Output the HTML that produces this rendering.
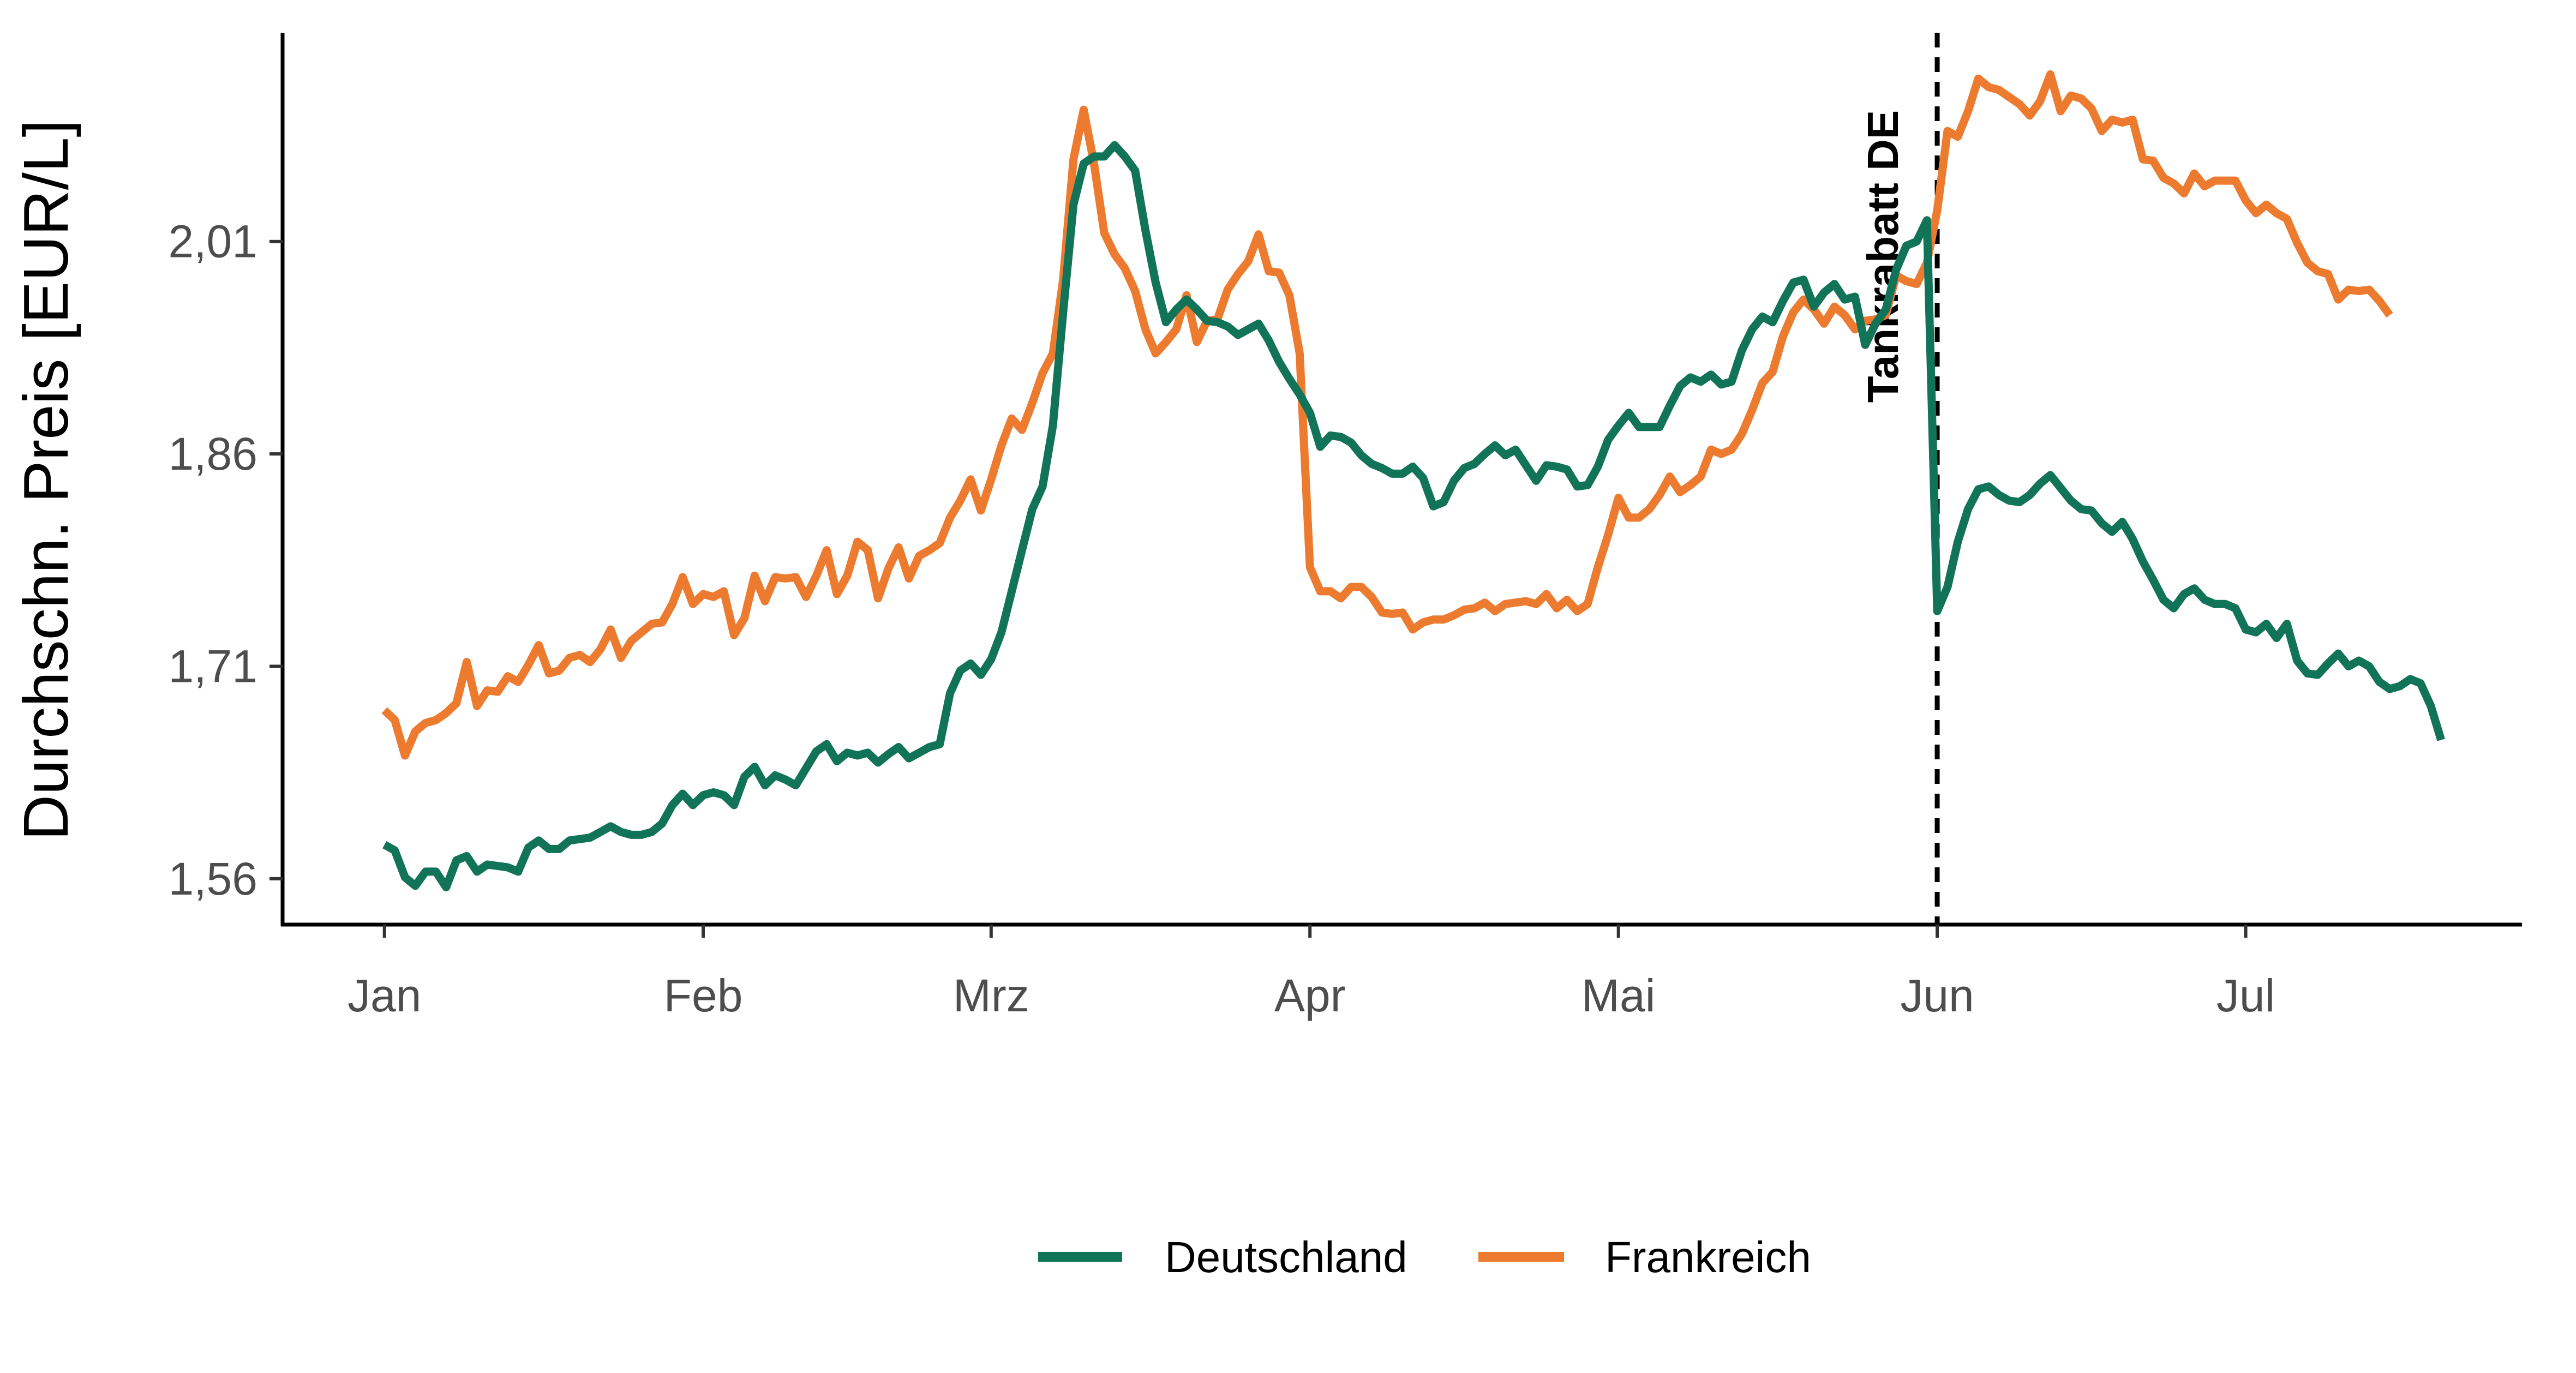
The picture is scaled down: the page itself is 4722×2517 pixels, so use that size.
<!DOCTYPE html>
<html><head><meta charset="utf-8"><style>
html,body{margin:0;padding:0;background:#fff}
svg{display:block}
text{font-family:"Liberation Sans",Arial,sans-serif}
</style></head><body>
<svg id="chart" width="4722" height="2517" viewBox="0 0 4722 2517" xmlns="http://www.w3.org/2000/svg">
<rect width="4722" height="2517" fill="#fff"/>
<g id="marks"></g>
<g id="axes"></g>
<text transform="translate(124,880) rotate(-90)" text-anchor="middle" font-size="116" fill="#000">Durchschn. Preis [EUR/L]</text>
<g>
<line x1="1903" y1="2304" x2="2057" y2="2304" stroke="#117357" stroke-width="18"/>
<text x="2135" y="2332" font-size="80" fill="#000">Deutschland</text>
<line x1="2710" y1="2304" x2="2867" y2="2304" stroke="#ec7a2f" stroke-width="18"/>
<text x="2942" y="2332" font-size="80" fill="#000">Frankreich</text>
</g>
</svg>
<script>
const deValues=[1.584,1.580,1.561,1.555,1.565,1.565,1.554,1.573,1.576,1.565,1.570,1.569,1.568,1.565,1.582,1.587,1.581,1.581,1.587,1.588,1.589,1.593,1.597,1.593,1.591,1.591,1.593,1.599,1.612,1.620,1.612,1.619,1.621,1.619,1.612,1.632,1.639,1.626,1.633,1.630,1.626,1.638,1.650,1.655,1.643,1.649,1.647,1.649,1.642,1.648,1.653,1.645,1.649,1.653,1.655,1.691,1.707,1.712,1.704,1.715,1.734,1.763,1.792,1.821,1.837,1.880,1.960,2.036,2.065,2.070,2.070,2.078,2.070,2.060,2.018,1.981,1.953,1.962,1.969,1.962,1.954,1.953,1.950,1.944,1.948,1.952,1.940,1.925,1.913,1.902,1.889,1.865,1.873,1.872,1.868,1.859,1.853,1.850,1.846,1.846,1.851,1.843,1.823,1.826,1.841,1.850,1.853,1.860,1.866,1.859,1.863,1.852,1.841,1.852,1.851,1.849,1.837,1.838,1.851,1.870,1.880,1.889,1.879,1.879,1.879,1.894,1.908,1.914,1.911,1.916,1.909,1.911,1.933,1.948,1.957,1.953,1.968,1.981,1.983,1.964,1.974,1.980,1.969,1.971,1.937,1.952,1.962,1.990,2.007,2.010,2.025,1.749,1.766,1.798,1.821,1.835,1.837,1.831,1.827,1.826,1.831,1.839,1.845,1.836,1.827,1.821,1.820,1.811,1.805,1.812,1.800,1.784,1.771,1.757,1.751,1.761,1.765,1.757,1.754,1.754,1.751,1.736,1.734,1.740,1.730,1.740,1.714,1.705,1.704,1.712,1.719,1.710,1.714,1.710,1.699,1.694,1.696,1.701,1.698,1.682,1.658];
const frValues=[1.679,1.672,1.647,1.664,1.670,1.672,1.677,1.684,1.713,1.682,1.693,1.692,1.703,1.699,1.711,1.725,1.705,1.707,1.716,1.718,1.713,1.722,1.736,1.716,1.728,1.734,1.740,1.741,1.754,1.773,1.754,1.761,1.759,1.763,1.732,1.744,1.774,1.756,1.773,1.772,1.773,1.759,1.774,1.792,1.761,1.774,1.798,1.792,1.758,1.779,1.794,1.772,1.788,1.792,1.797,1.815,1.827,1.842,1.820,1.842,1.866,1.885,1.877,1.896,1.917,1.931,1.983,2.068,2.103,2.065,2.016,2.001,1.991,1.975,1.948,1.931,1.939,1.948,1.972,1.939,1.954,1.955,1.976,1.987,1.996,2.015,1.989,1.988,1.972,1.931,1.780,1.763,1.763,1.758,1.766,1.766,1.759,1.748,1.747,1.748,1.736,1.741,1.743,1.743,1.746,1.750,1.751,1.755,1.749,1.754,1.755,1.756,1.754,1.761,1.751,1.757,1.749,1.754,1.780,1.803,1.829,1.815,1.815,1.821,1.831,1.844,1.833,1.838,1.844,1.863,1.860,1.863,1.874,1.891,1.910,1.918,1.943,1.960,1.969,1.962,1.952,1.964,1.958,1.948,1.954,1.955,1.958,1.986,1.982,1.980,1.995,2.032,2.088,2.084,2.102,2.125,2.119,2.117,2.112,2.107,2.099,2.109,2.128,2.102,2.113,2.111,2.104,2.088,2.096,2.094,2.096,2.068,2.067,2.055,2.051,2.044,2.058,2.049,2.053,2.053,2.053,2.039,2.030,2.036,2.030,2.026,2.009,1.995,1.989,1.987,1.969,1.976,1.975,1.976,1.968,1.958];
const monthStartDays=[0,31,59,90,120,151,181];
const monthLabels=["Jan","Feb","Mrz","Apr","Mai","Jun","Jul"];
const yTicks=[1.56,1.71,1.86,2.01];
const markerDay=151;
const markerLabel="Tankrabatt DE";

const NS="http://www.w3.org/2000/svg";
const xScale=d=>704.7+d*18.85;
const yScale=v=>442.7+(2.01-v)*2596;
function mk(tag,attrs,parent){const e=document.createElementNS(NS,tag);for(const k in attrs)e.setAttribute(k,attrs[k]);parent.appendChild(e);return e;}
const marks=document.getElementById('marks');
const axes=document.getElementById('axes');

// marker line
const ml=mk('line',{x1:xScale(markerDay),x2:xScale(markerDay),y1:60,y2:1695,stroke:'#000','stroke-width':9,'stroke-dasharray':'27 18'},marks);


const mt=mk('text',{transform:`translate(${xScale(markerDay)-72},470) rotate(-90)`,'text-anchor':'middle','font-size':80,'font-weight':'bold',fill:'#000'},marks);
mt.textContent=markerLabel;



function line(vals,color,name){
  const d=vals.map((v,i)=>(i?'L':'M')+xScale(i).toFixed(1)+','+yScale(v).toFixed(1)).join(' ');
  const p=mk('path',{d:d,fill:'none',stroke:color,'stroke-width':15,'stroke-linejoin':'round','stroke-linecap':'butt'},marks);
  
  
}
line(frValues,'#ec7a2f','line-frankreich');
line(deValues,'#117357','line-deutschland');

// axes
const ya=mk('line',{x1:518,x2:518,y1:60,y2:1697,stroke:'#000','stroke-width':7},axes);


const xa=mk('line',{x1:515,x2:4623,y1:1695,y2:1695,stroke:'#000','stroke-width':7},axes);


yTicks.forEach(v=>{
  const y=yScale(v);
  const t=mk('line',{x1:494,x2:518,y1:y,y2:y,stroke:'#333','stroke-width':6},axes);
  
  
  const l=mk('text',{x:472,y:y+29,'text-anchor':'end','font-size':84,fill:'#4d4d4d'},axes);
  l.textContent=v.toFixed(2).replace('.',',');
  
  
});
monthStartDays.forEach((d,i)=>{
  const x=xScale(d);
  const t=mk('line',{x1:x,x2:x,y1:1695,y2:1719,stroke:'#333','stroke-width':6},axes);
  
  
  const l=mk('text',{x:x,y:1854,'text-anchor':'middle','font-size':84,fill:'#4d4d4d'},axes);
  l.textContent=monthLabels[i];
  
  
});
</script>
</body></html>
